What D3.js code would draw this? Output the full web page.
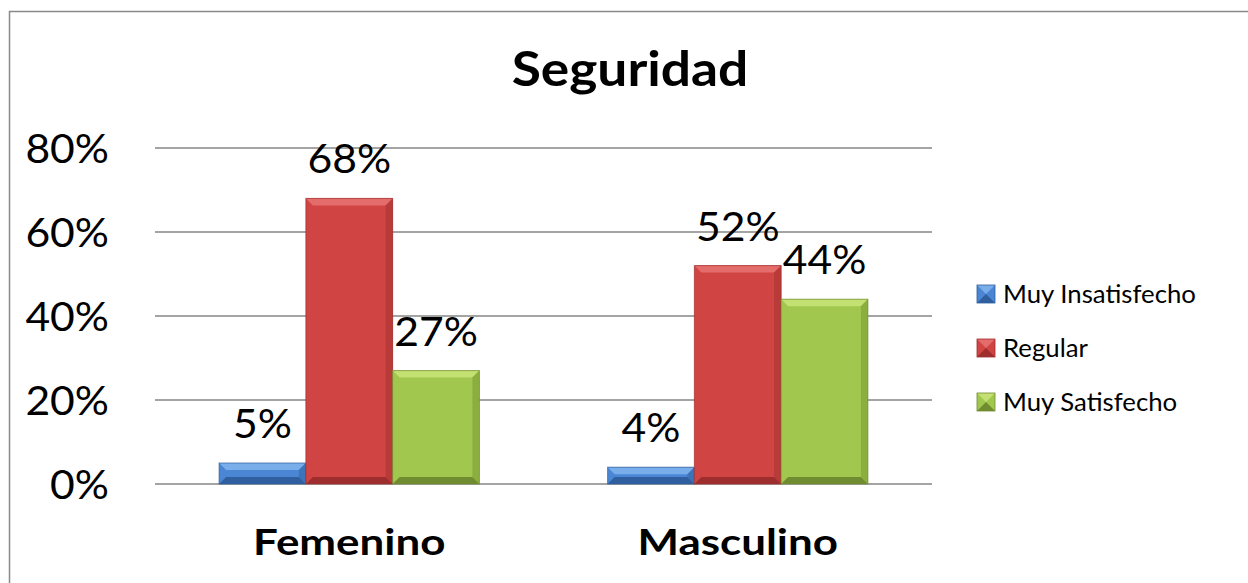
<!DOCTYPE html>
<html>
<head>
<meta charset="utf-8">
<script src="https://cdn.jsdelivr.net/npm/d3@7"></script>
<style>
  html, body { margin: 0; padding: 0; background: #fff; }
  svg { display: block; }
  text { font-family: Lato, "Open Sans", sans-serif; fill: #000; }
</style>
</head>
<body>
<svg id="chart" width="1248" height="583"></svg>
<script>
const title = "Seguridad";
const categories = ["Femenino", "Masculino"];
const seriesNames = ["Muy Insatisfecho", "Regular", "Muy Satisfecho"];
const seriesValues = [
  [0.05, 0.04],   // Muy Insatisfecho
  [0.68, 0.52],   // Regular
  [0.27, 0.44]    // Muy Satisfecho
];
const yTicks = [0, 0.2, 0.4, 0.6, 0.8];

const palette = [
  { base: "#4a86d4", light: "#7aaeea", dark: "#2f5f9e", side: "#3d73b8" },
  { base: "#d04443", light: "#e46c6a", dark: "#9e2e2d", side: "#b83a39" },
  { base: "#a2c74e", light: "#c3e072", dark: "#708c30", side: "#8cae40" }
];

function stretch(sel, f) {
  sel.each(function () {
    const w = this.getComputedTextLength();
    d3.select(this).attr("textLength", w * f).attr("lengthAdjust", "spacingAndGlyphs");
  });
}

const svg = d3.select("#chart");
const margin = { left: 155, right: 316, top: 148, bottom: 99 };
const W = 1248, H = 583;
const plotW = W - margin.left - margin.right;
const plotH = H - margin.top - margin.bottom;

svg.append("rect").attr("x", 9.5).attr("y", 11.5).attr("width", 1300).attr("height", 700)
  .attr("fill", "none").attr("stroke", "#8a8a8a").attr("stroke-width", 1.5);

const g = svg.append("g").attr("transform", `translate(${margin.left},${margin.top})`);

const x0 = d3.scaleBand().domain(categories).range([0, plotW]).paddingInner(0).paddingOuter(0);
const groupW = x0.bandwidth() * 0.67;
const x1 = d3.scaleBand().domain(d3.range(seriesNames.length)).range([0, groupW]).padding(0);
const y = d3.scaleLinear().domain([0, 0.8]).range([plotH, 0]);

g.append("g").selectAll("line").data(yTicks).join("line")
  .attr("x1", 0).attr("x2", plotW)
  .attr("y1", d => y(d)).attr("y2", d => y(d))
  .attr("stroke", "#868686").attr("stroke-width", 1.5);

const yAxis = d3.axisLeft(y).tickValues(yTicks).tickFormat(d3.format(".0%")).tickSize(0).tickPadding(46);
const ya = g.append("g").call(yAxis);
ya.select(".domain").remove();
ya.selectAll("text").style("font-size", "41px").style("font-family", "Lato, sans-serif").attr("fill", "#000").attr("dy", "0.36em");
stretch(ya.selectAll("text"), 1.04);

const xAxis = d3.axisBottom(x0).tickSize(0).tickPadding(0);
const xa = g.append("g").attr("transform", `translate(0,${plotH})`).call(xAxis);
xa.select(".domain").remove();
xa.selectAll("text").style("font-size", "36px").style("font-weight", "bold")
  .style("font-family", "Lato, sans-serif").attr("fill", "#000").attr("dy", null).attr("y", 71);
stretch(xa.selectAll("text"), 1.22);

const bev = 7;
categories.forEach((cat, ci) => {
  const gx = x0(cat) + (x0.bandwidth() - groupW) / 2;
  seriesNames.forEach((s, si) => {
    const v = seriesValues[si][ci];
    const bx = gx + x1(si), bw = x1.bandwidth();
    const by = y(v), bh = y(0) - y(v);
    const c = palette[si];
    const b = Math.min(bev, bh / 2);
    const bar = g.append("g");
    bar.append("rect").attr("x", bx).attr("y", by).attr("width", bw).attr("height", bh).attr("fill", c.base);
    bar.append("polygon").attr("points", [[bx, by], [bx + bw, by], [bx + bw - b, by + b], [bx + b, by + b]].join(" ")).attr("fill", c.light);
    bar.append("polygon").attr("points", [[bx + bw, by], [bx + bw, by + bh], [bx + bw - b, by + bh - b], [bx + bw - b, by + b]].join(" ")).attr("fill", c.side);
    bar.append("polygon").attr("points", [[bx, by + bh], [bx + bw, by + bh], [bx + bw - b, by + bh - b], [bx + b, by + bh - b]].join(" ")).attr("fill", c.dark);
    bar.append("rect").attr("x", bx).attr("y", by).attr("width", bw).attr("height", bh)
      .attr("fill", "none").attr("stroke", c.dark).attr("stroke-width", 1).attr("opacity", 0.7);
    const t = g.append("text").attr("x", bx + bw / 2).attr("y", by - 25)
      .attr("text-anchor", "middle").style("font-size", "41px")
      .text(d3.format(".0%")(v));
    stretch(t, 1.04);
  });
});

const tt = svg.append("text").attr("x", 630).attr("y", 86).attr("text-anchor", "middle")
  .style("font-size", "48px").style("font-weight", "bold").text(title);
stretch(tt, 1.11);

const leg = svg.append("g").attr("transform", "translate(977,285)");
seriesNames.forEach((s, i) => {
  const row = leg.append("g").attr("transform", `translate(0,${i * 54})`);
  const c = palette[i];
  row.append("rect").attr("width", 18).attr("height", 18).attr("fill", c.base);
  row.append("polygon").attr("points", "0,0 18,0 9,9").attr("fill", c.light);
  row.append("polygon").attr("points", "0,18 18,18 9,9").attr("fill", c.dark);
  row.append("rect").attr("width", 18).attr("height", 18).attr("fill", "none").attr("stroke", c.dark).attr("stroke-width", 0.8);
  const lt = row.append("text").attr("x", 26).attr("y", 9).attr("dy", "0.36em").style("font-size", "25px").text(s);
  stretch(lt, 1.03);
});
</script>
</body>
</html>
